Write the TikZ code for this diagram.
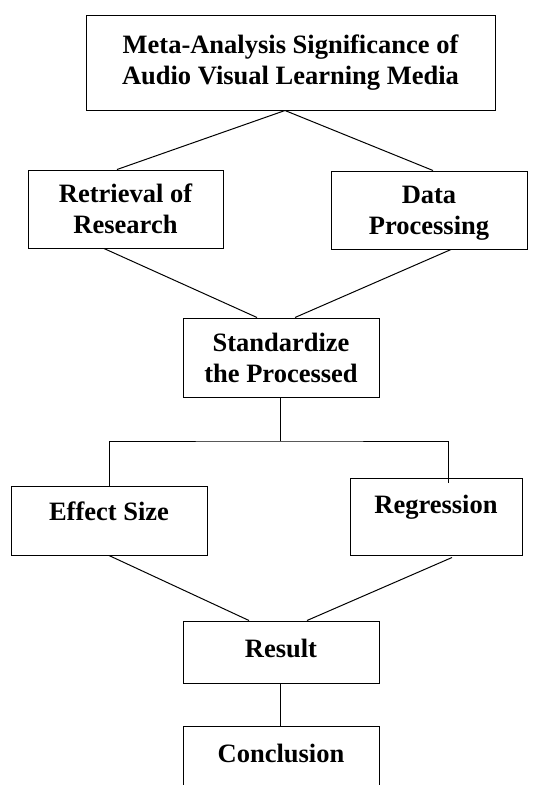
\documentclass[tikz,border=0pt]{standalone}
\usepackage{fontspec}
\setmainfont{Liberation Serif}

\begin{document}
\begin{tikzpicture}[x=1pt, y=-1pt, line width=1pt,
    box/.style={draw=black, rectangle, align=center, inner sep=0pt,
        font=\fontsize{26.5}{31}\selectfont\bfseries}]
    % Seitengröße wie im Original, unten abgeschnitten
    \useasboundingbox (0,0) rectangle (534,785);
    \clip (0,0) rectangle (534,785);

    % Oberster Kasten
    \node[box, minimum width=409pt, minimum height=95pt] (meta) at (290.5,62.5)
        {Meta-Analysis Significance of\\Audio Visual Learning Media};

    % Zweite Ebene: Recherche und Datenverarbeitung
    \node[box, minimum width=195pt, minimum height=78pt] (retrieval) at (125.5,209)
        {Retrieval of\\Research};
    \node[box, minimum width=196pt, minimum height=78pt] (processing) at (429,210)
        {Data\\\raisebox{0pt}[\height][0pt]{Processing}};

    % Standardisierung
    \node[box, minimum width=196pt, minimum height=79pt] (standard) at (281,357.5)
        {Standardize\\the Processed};

    % Effektstärke und Regression
    \node[box, minimum width=196pt, minimum height=69pt, text depth=18pt] (effect) at (109,520.5)
        {Effect Size};
    \node[box, minimum width=172pt, minimum height=77pt, text depth=25pt] (regression) at (436,516.5)
        {Regression};

    % Ergebnis und Schluss
    \node[box, minimum width=196pt, minimum height=62pt, text depth=8pt] (result) at (281,652)
        {Result};
    \node[box, minimum width=196pt, minimum height=80pt, text depth=26pt, anchor=north] (conclusion) at (281,726)
        {Conclusion};

    % Verbindungslinien oben
    \draw ([xshift=-5.5pt]meta.south) -- ([xshift=-8.5pt]retrieval.north);
    \draw ([xshift=-5.5pt]meta.south) -- ([xshift=4pt]processing.north);
    \draw ([xshift=-21.5pt]retrieval.south) -- ([xshift=-24pt]standard.north);
    \draw ([xshift=22pt]processing.south) -- ([xshift=14pt]standard.north);

    % Verzweigung unter der Standardisierung
    \coordinate (fork) at (280,441);
    \draw ([xshift=-1pt]standard.south) -- (fork);
    \draw (effect.north) |- (fork) -| ([xshift=12pt, yshift=-5pt]regression.north);

    % Zusammenführung zum Ergebnis
    \draw (effect.south) -- ([xshift=-32pt]result.north);
    \draw ([xshift=16pt, yshift=-2pt]regression.south) -- ([xshift=26pt]result.north);
    \draw ([xshift=-1pt]result.south) -- ([xshift=-1pt]conclusion.north);

\end{tikzpicture}
\end{document}
